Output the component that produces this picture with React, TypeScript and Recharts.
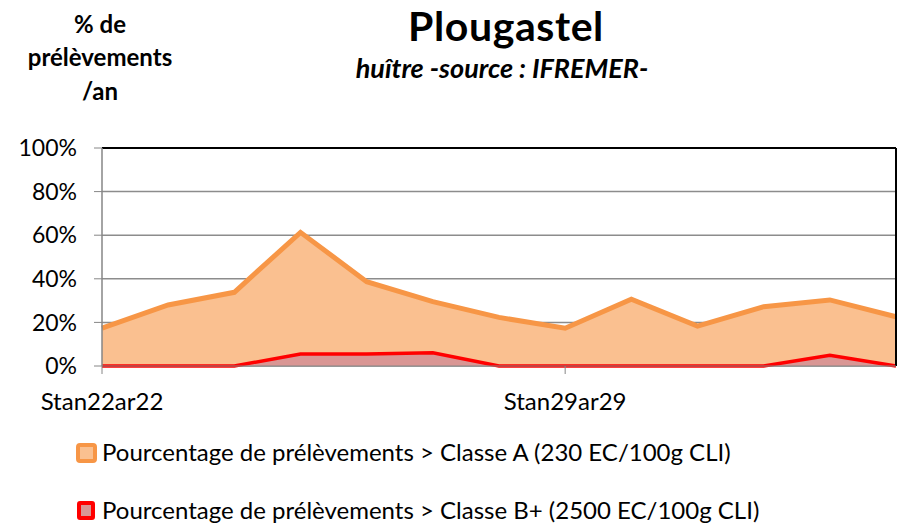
import { AreaChart, Area, XAxis, YAxis, CartesianGrid, ReferenceLine } from 'recharts';

// categories as shown on the axis (one per year)
const YEARS = [
  'Stan22ar22', 'Stan23ar23', 'Stan24ar24', 'Stan25ar25', 'Stan26ar26', 'Stan27ar27', 'Stan28ar28',
  'Stan29ar29', 'Stan30ar30', 'Stan31ar31', 'Stan32ar32', 'Stan33ar33', 'Stan34ar34',
];
// % of samples above thresholds
const CLASSE_A = [17.4, 28, 33.8, 61.3, 38.7, 29.5, 22.3, 17.3, 30.6, 18.3, 27.2, 30.3, 22.6];
const CLASSE_BPLUS = [0, 0, 0, 5.5, 5.5, 6.1, 0, 0, 0, 0, 0, 4.9, 0];
const Y_TICKS = [0, 20, 40, 60, 80, 100];

const LEGEND_A = 'Pourcentage de prélèvements > Classe A (230 EC/100g CLI)';
const LEGEND_B = 'Pourcentage de prélèvements > Classe B+ (2500 EC/100g CLI)';

const FONT = 'Lato, "Open Sans", sans-serif';

const data = YEARS.map((year, i) => ({ year, a: CLASSE_A[i], b: CLASSE_BPLUS[i] }));

export default function App() {
  return (
    <div style={{ position: 'absolute', left: 0, top: 0, width: 904, height: 526, background: '#fff' }}>
      <AreaChart width={904} height={526} data={data} margin={{ top: 148, right: 8, bottom: 120, left: 0 }}>
        <CartesianGrid horizontal vertical={false} stroke="#8c8c8c" strokeWidth={1.5} />
        <XAxis
          dataKey="year"
          interval={6}
          height={40}
          tickSize={8}
          tickMargin={19}
          tick={{ fill: '#000', fontSize: 24, fontFamily: FONT }}
          stroke="#868686"
          axisLine={{ stroke: '#868686' }}
        />
        <YAxis
          width={102}
          domain={[0, 100]}
          ticks={Y_TICKS}
          tickFormatter={(v: number) => `${v}%`}
          tickSize={8}
          tickMargin={17}
          tick={{ fill: '#000', fontSize: 23, fontFamily: FONT }}
          stroke="#868686"
          axisLine={{ stroke: '#868686', strokeWidth: 1.5 }}
        />
        <ReferenceLine y={100} stroke="#000" strokeWidth={2} />
        <ReferenceLine x={YEARS[YEARS.length - 1]} stroke="#000" strokeWidth={2} />
        <Area
          type="linear"
          dataKey="a"
          stroke="#f79646"
          strokeWidth={5}
          fill="#fac090"
          fillOpacity={1}
          dot={false}
          activeDot={false}
          isAnimationActive={false}
        />
        <Area
          type="linear"
          dataKey="b"
          stroke="#ff0000"
          strokeWidth={3.5}
          fill="#d99694"
          fillOpacity={1}
          dot={false}
          activeDot={false}
          isAnimationActive={false}
        />
      </AreaChart>
      <svg width={904} height={526} style={{ position: 'absolute', left: 0, top: 0, pointerEvents: 'none' }}>
        <g fontFamily={FONT} fontWeight="bold" fontSize={24} textAnchor="middle" fill="#000">
          <text x={100} y={33}>% de</text>
          <text x={100} y={66}>prélèvements</text>
          <text x={100} y={100}>/an</text>
        </g>
        <text x={506} y={41} textAnchor="middle" fontFamily={FONT} fontWeight="bold" fontSize={41} letterSpacing={0.6} fill="#000">
          Plougastel
        </text>
        <text x={502} y={78} textAnchor="middle" fontFamily={FONT} fontWeight="bold" fontStyle="italic" fontSize={27} fill="#000">
          huître -source : IFREMER-
        </text>
        <rect x={78} y={445} width={17} height={16} rx={2} fill="#fac090" stroke="#f79646" strokeWidth={4} />
        <text x={102} y={461} fontFamily={FONT} fontSize={24} fill="#000">{LEGEND_A}</text>
        <rect x={79} y={503} width={14} height={15} rx={1} fill="#d99694" stroke="#ff0000" strokeWidth={4} />
        <text x={102} y={519} fontFamily={FONT} fontSize={24} fill="#000">{LEGEND_B}</text>
      </svg>
    </div>
  );
}
